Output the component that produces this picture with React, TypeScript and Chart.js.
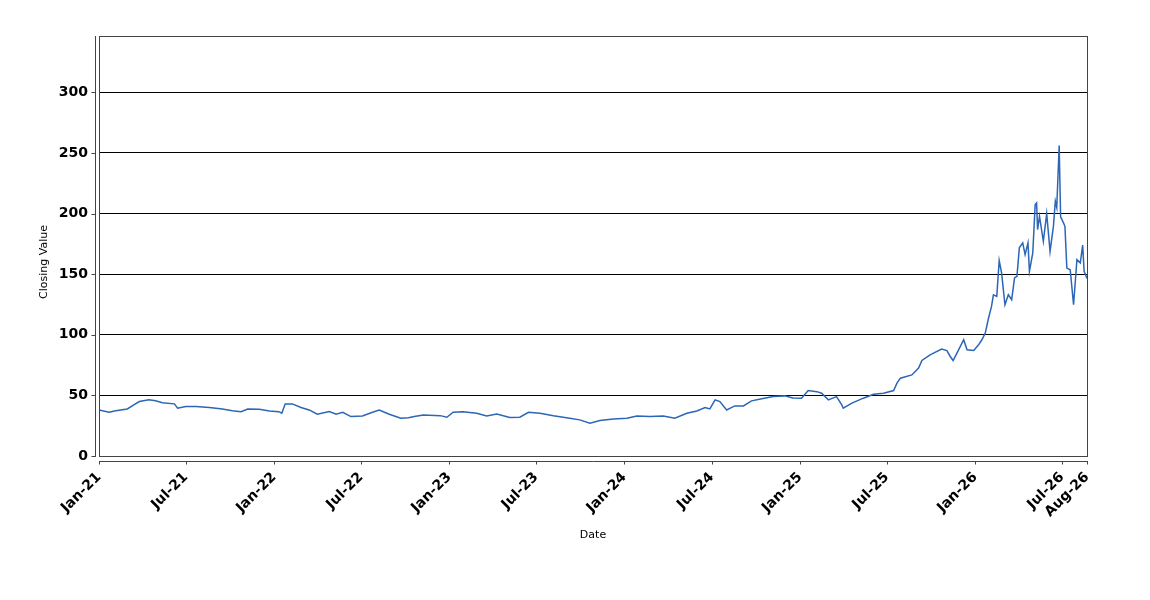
import React, { useRef, useEffect } from "react";
import { Chart, registerables } from "chart.js";

Chart.register(...registerables);

// closing values, one per date
const dates = [
  "2021-01-01", "2021-01-22", "2021-02-05", "2021-03-01", "2021-03-12", "2021-03-26",
  "2021-04-15", "2021-04-29", "2021-05-13", "2021-06-07", "2021-06-14", "2021-07-01",
  "2021-07-22", "2021-08-19", "2021-09-15", "2021-10-06", "2021-10-24", "2021-11-07",
  "2021-12-01", "2021-12-22", "2022-01-11", "2022-01-17", "2022-01-24", "2022-02-08",
  "2022-02-26", "2022-03-15", "2022-04-01", "2022-04-26", "2022-05-10", "2022-05-24",
  "2022-06-10", "2022-07-04", "2022-07-25", "2022-08-08", "2022-08-29", "2022-09-22",
  "2022-10-08", "2022-10-20", "2022-11-08", "2022-12-13", "2022-12-27", "2023-01-09",
  "2023-01-30", "2023-02-27", "2023-03-20", "2023-04-10", "2023-05-07", "2023-05-28",
  "2023-06-15", "2023-07-09", "2023-08-06", "2023-09-09", "2023-09-30", "2023-10-21",
  "2023-11-11", "2023-12-09", "2024-01-06", "2024-01-27", "2024-02-23", "2024-03-22",
  "2024-04-15", "2024-05-10", "2024-05-31", "2024-06-17", "2024-06-27", "2024-07-08",
  "2024-07-18", "2024-08-01", "2024-08-18", "2024-09-05", "2024-09-22", "2024-10-16",
  "2024-11-06", "2024-11-30", "2024-12-17", "2025-01-04", "2025-01-18", "2025-02-05",
  "2025-02-15", "2025-03-01", "2025-03-18", "2025-03-29", "2025-04-01", "2025-04-19",
  "2025-05-13", "2025-06-03", "2025-06-24", "2025-07-15", "2025-07-22", "2025-07-29",
  "2025-08-22", "2025-09-05", "2025-09-12", "2025-09-29", "2025-10-23", "2025-11-03",
  "2025-11-10", "2025-11-16", "2025-11-24", "2025-12-08", "2025-12-15", "2025-12-29",
  "2026-01-08", "2026-01-15", "2026-01-22", "2026-01-28", "2026-02-04", "2026-02-08",
  "2026-02-15", "2026-02-20", "2026-02-25", "2026-03-04", "2026-03-11", "2026-03-18",
  "2026-03-24", "2026-03-29", "2026-04-03", "2026-04-10", "2026-04-15", "2026-04-21",
  "2026-04-24", "2026-05-01", "2026-05-06", "2026-05-09", "2026-05-11", "2026-05-15",
  "2026-05-23", "2026-05-30", "2026-06-06", "2026-06-13", "2026-06-17", "2026-06-20",
  "2026-06-25", "2026-06-28", "2026-07-04", "2026-07-07", "2026-07-11", "2026-07-18",
  "2026-07-25", "2026-08-01", "2026-08-08", "2026-08-13", "2026-08-16", "2026-08-22",
];

const closes = [
  38.0, 36.1, 37.4, 38.8, 41.6, 44.9,
  46.3, 45.5, 44.0, 43.0, 39.4, 40.8,
  40.8, 40.0, 38.8, 37.4, 36.6, 38.8,
  38.6, 37.2, 36.6, 35.3, 43.0, 43.0,
  40.0, 38.0, 34.5, 36.6, 34.5, 36.1,
  32.5, 33.0, 36.1, 38.0, 34.5, 31.2,
  31.5, 32.5, 33.9, 33.3, 32.0, 36.1,
  36.6, 35.3, 33.0, 34.7, 31.7, 32.0,
  36.1, 35.3, 33.3, 31.2, 29.8, 27.0,
  29.2, 30.6, 31.2, 33.0, 32.5, 33.0,
  31.2, 35.3, 37.2, 40.0, 38.8, 46.3,
  44.9, 38.0, 41.3, 41.3, 45.5, 47.4,
  49.0, 49.6, 47.9, 47.7, 54.0, 53.1,
  51.8, 46.3, 49.0, 42.1, 39.4, 43.6,
  47.7, 51.0, 51.8, 54.0, 60.1, 64.2,
  66.9, 72.5, 78.8, 83.5, 88.2, 87.0,
  82.1, 78.8, 84.9, 95.9, 87.6, 87.0,
  91.7, 95.9, 101.4, 112.4, 123.4, 133.0,
  131.7, 161.2, 151.0, 124.8, 133.0, 128.9,
  146.9, 148.2, 171.7, 175.8, 166.1, 175.8,
  152.3, 167.5, 207.4, 208.8, 186.8, 197.8,
  177.1, 200.0, 168.8, 189.5, 210.2, 205.0,
  256.2, 197.3, 192.3, 189.5, 155.0, 153.7,
  124.8, 162.0, 159.3, 174.0, 152.3, 146.5,
];

const xTickDates = [
  "2021-01-01", "2021-07-01", "2022-01-01", "2022-07-01", "2023-01-01", "2023-07-01",
  "2024-01-01", "2024-07-01", "2025-01-01", "2025-07-01", "2026-01-01", "2026-07-01",
  "2026-08-22",
];
const yTickValues = [0, 50, 100, 150, 200, 250, 300];
const MONTHS = ["Jan", "Feb", "Mar", "Apr", "May", "Jun", "Jul", "Aug", "Sep", "Oct", "Nov", "Dec"];

const toTime = (d: string) => Date.parse(d + "T00:00:00Z");

const fmtMonth = (v: number) => {
  const d = new Date(v);
  return MONTHS[d.getUTCMonth()] + "-" + String(d.getUTCFullYear()).slice(2);
};

// plot frame, axes drawn a few px away from it, and the y title
const framePlugin = {
  id: "frame",
  afterDraw(chart: any) {
    const { ctx, chartArea: a, scales } = chart;
    const l = Math.round(a.left), r = Math.round(a.right);
    const t = Math.round(a.top), b = Math.round(a.bottom);
    ctx.save();
    ctx.strokeStyle = "#444";
    ctx.lineWidth = 1;
    ctx.strokeRect(l + 0.5, t + 0.5, r - l, b - t);

    ctx.beginPath();
    const ax = l - 4 + 0.5;
    ctx.moveTo(ax, t);
    ctx.lineTo(ax, b + 1);
    yTickValues.forEach((v) => {
      const y = Math.round(scales.y.getPixelForValue(v)) + 0.5;
      ctx.moveTo(ax - 4, y);
      ctx.lineTo(ax, y);
    });
    const ay = b + 5 + 0.5;
    ctx.moveTo(l, ay);
    ctx.lineTo(r + 1, ay);
    xTickDates.forEach((d) => {
      const x = Math.round(scales.x.getPixelForValue(toTime(d))) + 0.5;
      ctx.moveTo(x, ay);
      ctx.lineTo(x, ay + 3);
    });
    ctx.stroke();

    ctx.translate(44, 262);
    ctx.rotate(-Math.PI / 2);
    ctx.font = "11px 'DejaVu Sans'";
    ctx.fillStyle = "#000";
    ctx.textAlign = "center";
    ctx.textBaseline = "middle";
    ctx.fillText("Closing Value", 0, 0);
    ctx.restore();
  },
};

const ClosingChart = () => {
  const chartRef = useRef<HTMLCanvasElement>(null);
  const chartInstanceRef = useRef<Chart | null>(null);

  useEffect(() => {
    if (chartRef.current && !chartInstanceRef.current) {
      const context = chartRef.current.getContext("2d");
      if (context) {
        chartInstanceRef.current = new Chart(context, {
          type: "line",
          data: {
            datasets: [
              {
                label: "Closing Value",
                data: dates.map((d, i) => ({ x: toTime(d), y: closes[i] })),
                borderColor: "#2c66b6",
                borderWidth: 1.5,
                pointRadius: 0,
                tension: 0,
                fill: false,
              },
            ],
          },
          options: {
            responsive: false,
            animation: false,
            font: { family: "'DejaVu Sans'" },
            layout: {
              padding: { top: 36, right: 63, bottom: 0, left: 0 },
              autoPadding: false,
            },
            scales: {
              x: {
                type: "linear",
                min: toTime("2021-01-01"),
                max: toTime("2026-08-22"),
                grid: { display: false },
                border: { display: false },
                afterBuildTicks: (scale: any) => {
                  scale.ticks = xTickDates.map((d) => ({ value: toTime(d) }));
                },
                afterFit: (scale: any) => {
                  scale.height = 144;
                  scale.paddingLeft = 0;
                  scale.paddingRight = 0;
                },
                ticks: {
                  autoSkip: false,
                  minRotation: 45,
                  maxRotation: 45,
                  padding: 5,
                  color: "#000",
                  font: { family: "'DejaVu Sans'", size: 14, weight: "bold" },
                  callback: (v: any) => fmtMonth(Number(v)),
                },
                title: {
                  display: true,
                  text: "Date",
                  color: "#000",
                  font: { family: "'DejaVu Sans'", size: 11 },
                  padding: { top: 0, bottom: 58 },
                },
              },
              y: {
                min: 0,
                max: 346.5,
                border: { display: false },
                grid: {
                  drawTicks: false,
                  lineWidth: 1,
                  color: (c: any) => (c.tick && c.tick.value === 0 ? "rgba(0,0,0,0)" : "#000"),
                },
                afterBuildTicks: (scale: any) => {
                  scale.ticks = yTickValues.map((v) => ({ value: v }));
                },
                afterFit: (scale: any) => {
                  scale.width = 99;
                  scale.paddingTop = 0;
                  scale.paddingBottom = 0;
                },
                ticks: {
                  padding: 11,
                  color: "#000",
                  font: { family: "'DejaVu Sans'", size: 14, weight: "bold" },
                },
              },
            },
            plugins: {
              legend: { display: false },
              tooltip: { enabled: false },
            },
          },
          plugins: [framePlugin],
        });
      }
    }
    return () => {
      if (chartInstanceRef.current) {
        chartInstanceRef.current.destroy();
        chartInstanceRef.current = null;
      }
    };
  }, []);

  return (
    <div style={{ position: "fixed", left: 0, top: 0, width: 1150, height: 600, background: "#fff" }}>
      <canvas ref={chartRef} width={1150} height={600} />
    </div>
  );
};

export default function App() {
  return <ClosingChart />;
}
